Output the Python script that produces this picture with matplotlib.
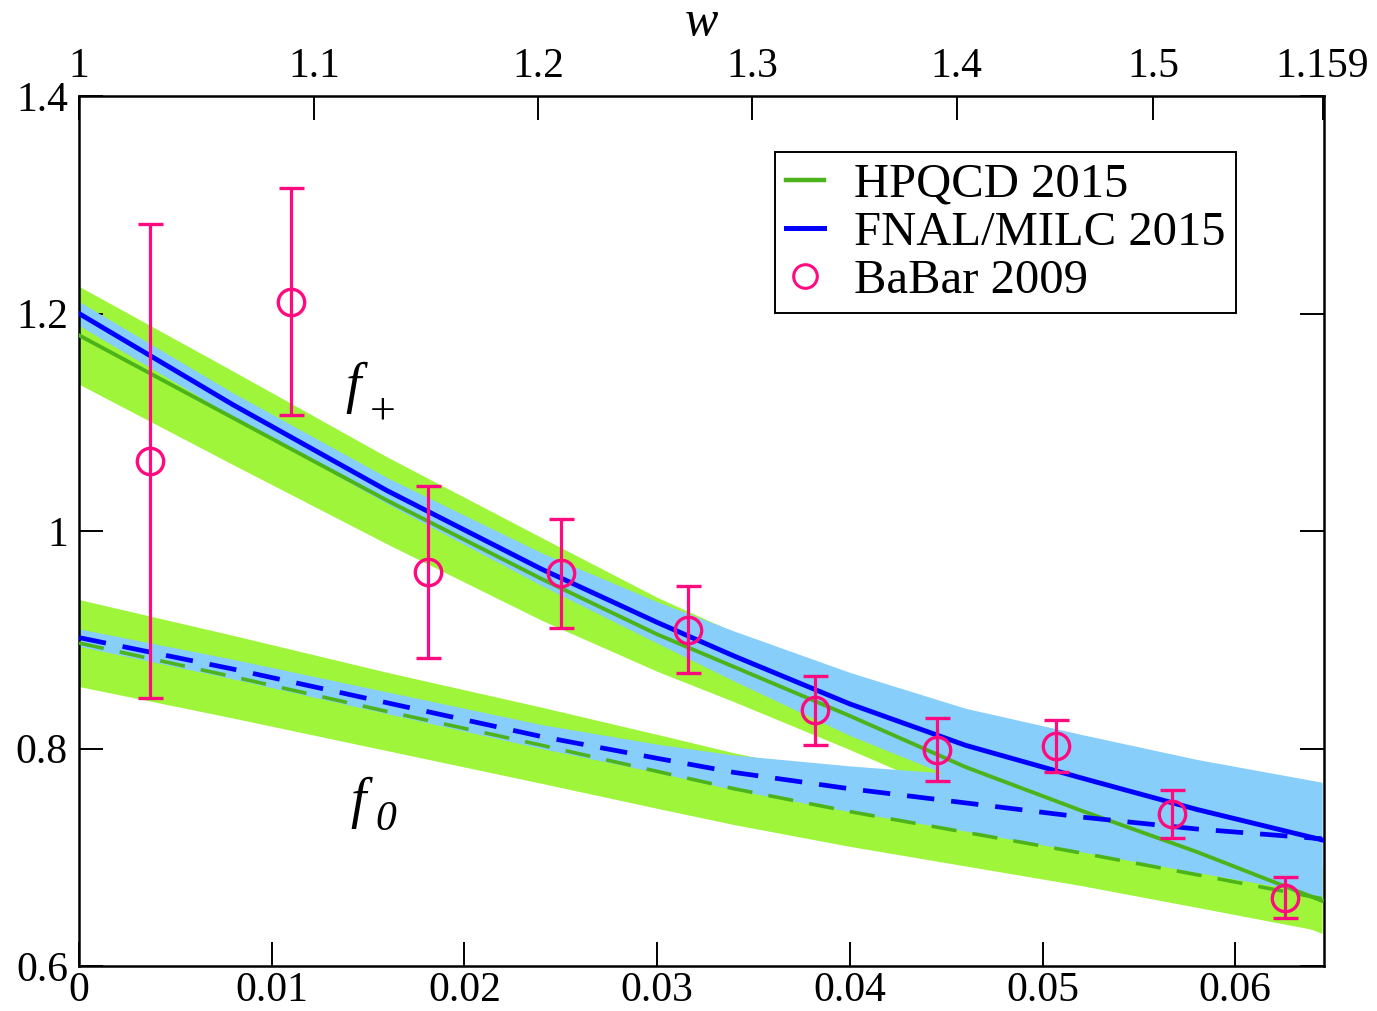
import numpy as np
import matplotlib
matplotlib.use("Agg")
import matplotlib.pyplot as plt
from matplotlib.lines import Line2D

plt.rcParams['font.family'] = ['Liberation Serif', 'DejaVu Serif']

# ---- data ----
# shared z grid for the form factor curves / bands
z_grid = [0, 0.008, 0.016, 0.024, 0.030, 0.034, 0.040, 0.046, 0.052, 0.058, 0.0645]

# HPQCD 2015
hpqcd_fplus = [1.180, 1.104, 1.028, 0.956, 0.905, 0.875, 0.830, 0.783, 0.743, 0.705, 0.660]
hpqcd_fplus_err = [0.045, 0.043, 0.040, 0.038, 0.034, 0.032, 0.031, 0.030, 0.030, 0.030, 0.030]
hpqcd_f0 = [0.897, 0.866, 0.834, 0.803, 0.779, 0.763, 0.742, 0.723, 0.704, 0.684, 0.662]
hpqcd_f0_err = [0.040, 0.038, 0.036, 0.035, 0.034, 0.033, 0.032, 0.031, 0.030, 0.030, 0.030]

# FNAL/MILC 2015
fnal_fplus = [1.200, 1.116, 1.037, 0.965, 0.916, 0.885, 0.841, 0.803, 0.773, 0.744, 0.716]
fnal_fplus_err = [0.011, 0.011, 0.012, 0.015, 0.019, 0.023, 0.029, 0.034, 0.040, 0.046, 0.053]
fnal_f0 = [0.902, 0.873, 0.842, 0.811, 0.791, 0.778, 0.763, 0.750, 0.737, 0.726, 0.717]
fnal_f0_err = [0.008, 0.009, 0.010, 0.011, 0.013, 0.016, 0.021, 0.026, 0.032, 0.040, 0.051]

# BaBar 2009
babar_z = [0.0037, 0.0110, 0.0181, 0.0250, 0.0316, 0.0382, 0.0445, 0.0507, 0.0567, 0.0626]
babar_f = [1.064, 1.211, 0.962, 0.961, 0.909, 0.835, 0.799, 0.802, 0.740, 0.663]
babar_err = [0.218, 0.104, 0.079, 0.050, 0.040, 0.032, 0.029, 0.024, 0.022, 0.019]

x_ticks = [0, 0.01, 0.02, 0.03, 0.04, 0.05, 0.06]
x_ticklabels = ['0', '0.01', '0.02', '0.03', '0.04', '0.05', '0.06']
y_ticks = [0.6, 0.8, 1.0, 1.2, 1.4]
y_ticklabels = ['0.6', '0.8', '1', '1.2', '1.4']
w_ticks = [1.0, 1.1, 1.2, 1.3, 1.4, 1.5, 1.59]
w_ticklabels = ['1', '1.1', '1.2', '1.3', '1.4', '1.5', '1.159']

LIME = '#9ef53a'
SKY = '#87cefa'
GREEN = '#4cb31a'
BLUE = '#0000ff'
PINK = '#ff0a7f'


def w_to_z(w):
    w = np.asarray(w, dtype=float)
    a = np.sqrt(np.clip(w + 1, 1e-9, None))
    return (a - np.sqrt(2)) / (a + np.sqrt(2))


def z_to_w(z):
    z = np.asarray(z, dtype=float)
    r = (1 + z) / np.clip(1 - z, 1e-9, None)
    return 2 * r**2 - 1


def main():
    zg = np.array(z_grid)
    fig = plt.figure(figsize=(13.77, 10.11), dpi=100)
    ax = fig.add_axes([0.0574, 0.0445, 0.904, 0.8605])

    # bands: green below blue
    for c, e in ((hpqcd_fplus, hpqcd_fplus_err), (hpqcd_f0, hpqcd_f0_err)):
        c, e = np.array(c), np.array(e)
        ax.fill_between(zg, c - e, c + e, color=LIME, lw=0, zorder=1)
    for c, e in ((fnal_fplus, fnal_fplus_err), (fnal_f0, fnal_f0_err)):
        c, e = np.array(c), np.array(e)
        ax.fill_between(zg, c - e, c + e, color=SKY, lw=0, zorder=2)

    # central curves
    ax.plot(zg, hpqcd_fplus, '-', color=GREEN, lw=2.8, zorder=3)
    ax.plot(zg, hpqcd_f0, color=GREEN, lw=2.6, ls=(0, (7.0, 4.5)), zorder=3)
    ax.plot(zg, fnal_fplus, '-', color=BLUE, lw=3.5, zorder=4)
    ax.plot(zg, fnal_f0, color=BLUE, lw=3.4, ls=(0, (5.8, 3.6)), zorder=4)

    # data
    ax.errorbar(babar_z, babar_f, yerr=babar_err, fmt='o', mfc='none', mec=PINK,
                ms=19, mew=2.4, ecolor=PINK, elinewidth=2.3, capsize=9,
                capthick=2.3, zorder=5)

    # curve labels
    ax.text(0.2137, 0.664, 'f', transform=ax.transAxes, fontsize=40,
            style='italic', ha='left', va='center')
    ax.text(0.2442, 0.637, '+', transform=ax.transAxes, fontsize=33,
            ha='center', va='center')
    ax.text(0.2177, 0.188, 'f', transform=ax.transAxes, fontsize=40,
            style='italic', ha='left', va='center')
    ax.text(0.2466, 0.168, '0', transform=ax.transAxes, fontsize=30,
            style='italic', ha='center', va='center')

    ax.set_xlim(0, 0.0646)
    ax.set_ylim(0.6, 1.4)
    ax.set_xticks(x_ticks)
    ax.set_xticklabels(x_ticklabels)
    ax.set_yticks(y_ticks)
    ax.set_yticklabels(y_ticklabels)
    ax.tick_params(axis='both', direction='in', length=17, width=1.4,
                   labelsize=30, right=True)
    ax.tick_params(axis='x', pad=4)
    ax.tick_params(axis='y', pad=8)
    for s in ax.spines.values():
        s.set_linewidth(1.8)

    secax = ax.secondary_xaxis('top', functions=(z_to_w, w_to_z))
    secax.set_xticks(w_ticks)
    secax.set_xticklabels(w_ticklabels)
    secax.tick_params(direction='in', length=17, width=1.4, labelsize=30, pad=7)
    secax.set_xlabel('w', fontsize=36, style='italic', labelpad=9)

    handles = [
        Line2D([], [], color=GREEN, lw=3.2),
        Line2D([], [], color=BLUE, lw=3.6),
        Line2D([], [], ls='none', marker='o', mfc='none', mec=PINK, ms=17, mew=2.2),
    ]
    labels = ['HPQCD 2015', 'FNAL/MILC 2015', 'BaBar 2009']
    leg = ax.legend(handles, labels, loc='upper left', bbox_to_anchor=(0.559, 0.9356),
                    fontsize=35, frameon=True, fancybox=False, framealpha=1,
                    edgecolor='black', borderpad=0.22, handlelength=0.8,
                    handletextpad=0.6, labelspacing=0.08, borderaxespad=0)
    leg.get_frame().set_linewidth(1.4)

    fig.savefig('out.png', dpi=100)


if __name__ == "__main__":
    main()
